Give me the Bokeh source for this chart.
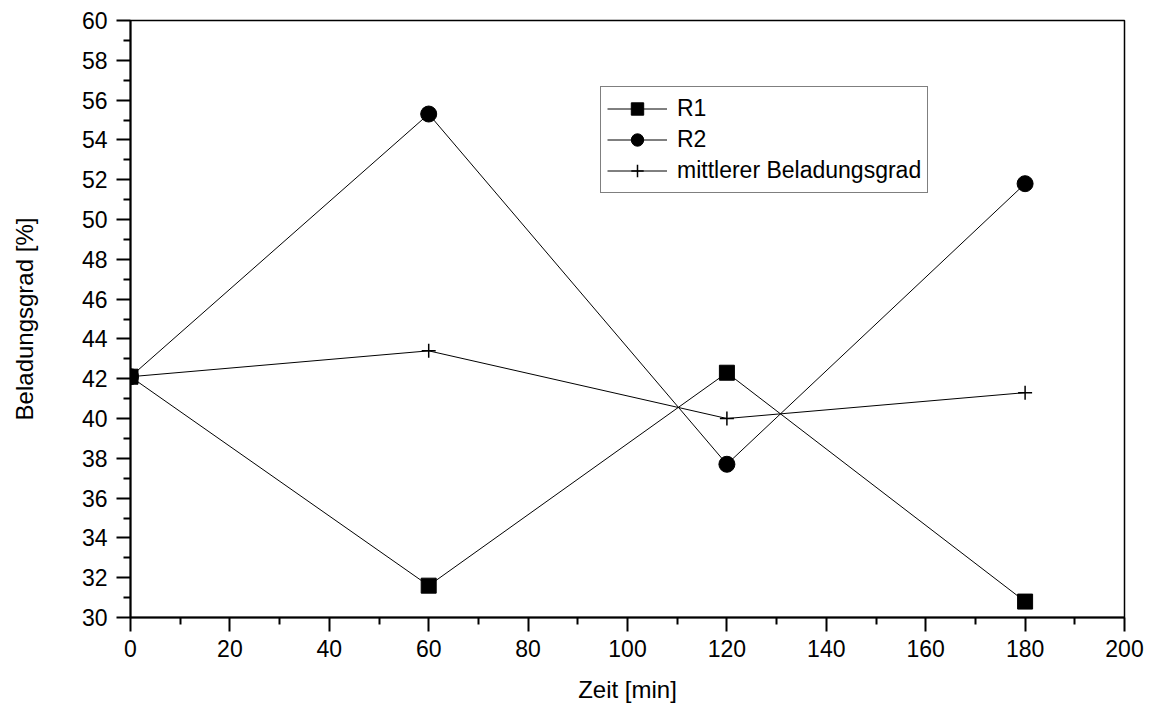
from bokeh.plotting import figure
from bokeh.models import Legend, LegendItem, Range1d, FixedTicker
from bokeh.embed import file_html
from bokeh.resources import INLINE

zeit = [0, 60, 120, 180]
r1 = [42.1, 31.6, 42.3, 30.8]
r2 = [42.1, 55.3, 37.7, 51.8]
mittel = [42.1, 43.4, 40.0, 41.3]
x_ticks = list(range(0, 201, 20))
y_ticks = list(range(30, 61, 2))

FONT = "Liberation Sans"

p = figure(width=1152, height=711, output_backend="svg", toolbar_location=None,
           x_range=Range1d(0, 200), y_range=Range1d(30, 60),
           min_border_left=130, min_border_right=28, min_border_top=20, min_border_bottom=94)
p.background_fill_color = "white"
p.border_fill_color = "white"
p.grid.visible = False
p.outline_line_color = "black"
p.outline_line_width = 1.5

for ax in (p.xaxis[0], p.yaxis[0]):
    ax.axis_line_width = 2
    ax.major_tick_line_width = 2
    ax.minor_tick_line_width = 2
    ax.major_tick_out = 14
    ax.major_tick_in = 0
    ax.minor_tick_out = 7
    ax.minor_tick_in = 0
    ax.major_label_text_font = FONT
    ax.major_label_text_font_size = "23px"
    ax.major_label_text_color = "black"
    ax.axis_label_text_font = FONT
    ax.axis_label_text_font_size = "24px"
    ax.axis_label_text_font_style = "normal"
    ax.axis_label_text_color = "black"

p.xaxis.ticker = FixedTicker(ticks=x_ticks, minor_ticks=list(range(10, 200, 20)))
p.yaxis.ticker = FixedTicker(ticks=y_ticks, minor_ticks=list(range(31, 60, 2)))
p.xaxis.axis_label = "Zeit [min]"
p.yaxis.axis_label = "Beladungsgrad [%]"
p.xaxis.major_label_standoff = 8
p.yaxis.major_label_standoff = 9
p.xaxis.axis_label_standoff = 16
p.yaxis.axis_label_standoff = 41

l1 = p.line(zeit, r1, line_color="black", line_width=1)
m1 = p.scatter(zeit, r1, marker="square", size=15, fill_color="black", line_color="black")
l2 = p.line(zeit, r2, line_color="black", line_width=1)
m2 = p.scatter(zeit, r2, marker="circle", size=16, fill_color="black", line_color="black")
l3 = p.line(zeit, mittel, line_color="black", line_width=1)
m3 = p.scatter(zeit, mittel, marker="cross", size=14, fill_color=None, line_color="black", line_width=1.5)

legend = Legend(items=[
    LegendItem(label="R1", renderers=[l1, m1]),
    LegendItem(label="R2", renderers=[l2, m2]),
    LegendItem(label="mittlerer Beladungsgrad", renderers=[l3, m3]),
], location=(470, 424))
legend.label_text_font = FONT
legend.label_text_font_size = "23px"
legend.label_text_color = "black"
legend.glyph_width = 60
legend.glyph_height = 31
legend.spacing = 0
legend.padding = 6
legend.margin = 0
legend.label_standoff = 10
legend.border_line_color = "black"
legend.border_line_width = 1.5
legend.background_fill_alpha = 1
p.add_layout(legend, "center")

open("out.html", "w").write(file_html(p, INLINE))
